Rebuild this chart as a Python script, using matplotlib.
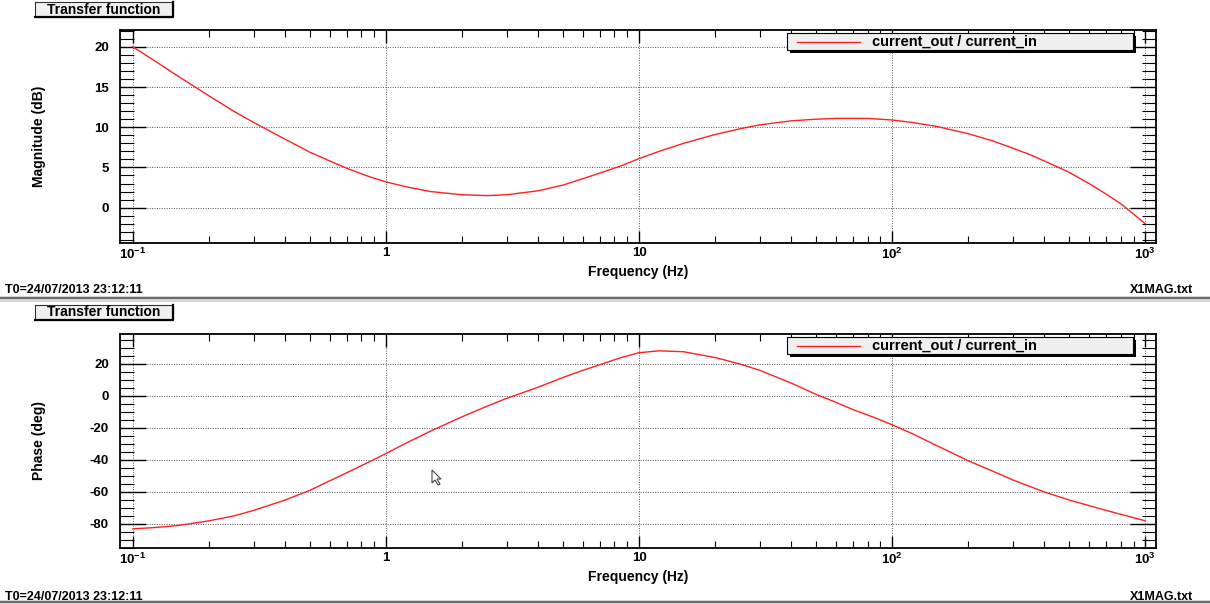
import numpy as np
import matplotlib
matplotlib.use("Agg")
import matplotlib.pyplot as plt
from matplotlib.patches import Rectangle, Polygon
from matplotlib.lines import Line2D
from matplotlib.ticker import FixedLocator, FuncFormatter, MultipleLocator, NullFormatter

plt.rcParams['font.family'] = ['Liberation Sans', 'DejaVu Sans']
plt.rcParams['font.weight'] = 'bold'
plt.rcParams['mathtext.fontset'] = 'custom'
plt.rcParams['mathtext.rm'] = 'Liberation Sans:bold'
plt.rcParams['mathtext.bf'] = 'Liberation Sans:bold'
plt.rcParams['axes.unicode_minus'] = False

# transfer function current_out / current_in
freq_mag = [0.1, 0.12, 0.15, 0.2, 0.25, 0.3, 0.4, 0.5, 0.6, 0.7, 0.85, 1, 1.2, 1.5, 2, 2.5,
            3, 4, 5, 6, 7, 8.5, 10, 12, 15, 20, 25, 30, 40, 50, 60, 80, 100, 120, 150,
            200, 250, 300, 350, 400, 500, 600, 700, 800, 900, 1000]
mag_db = [20.0, 18.4, 16.4, 13.9, 12.0, 10.6, 8.5, 6.9, 5.8, 4.9, 3.9, 3.2, 2.6, 2.0, 1.6, 1.5,
          1.6, 2.1, 2.8, 3.6, 4.3, 5.2, 6.1, 7.0, 8.0, 9.1, 9.8, 10.3, 10.8, 11.0, 11.1, 11.1,
          10.9, 10.6, 10.1, 9.2, 8.3, 7.4, 6.6, 5.8, 4.4, 3.0, 1.7, 0.5, -0.8, -2.0]

freq_ph = [0.1, 0.12, 0.15, 0.2, 0.25, 0.3, 0.4, 0.5, 0.6, 0.7, 0.85, 1, 1.2, 1.5, 2, 2.5,
           3, 4, 5, 6, 7, 8.5, 10, 12, 15, 20, 25, 30, 40, 50, 60, 70, 85, 100, 120, 150,
           200, 250, 300, 400, 500, 600, 700, 850, 1000]
phase_deg = [-83, -82.3, -81, -78, -75, -71.5, -65, -59, -53, -48, -41.5, -36, -29.5, -22,
             -13, -6.5, -1.5, 5.5, 11.5, 16, 19.5, 24, 27, 28.2, 27.6, 24, 20, 16, 8, 1, -4,
             -8.5, -13.5, -18, -23.5, -31, -40.5, -47, -52.5, -60, -65, -68.5, -71.5, -75, -78]

legend_text = "current_out / current_in"
stamp_text = "T0=24/07/2013 23:12:11"
file_text = "X1MAG.txt"

W, H = 1210, 604
fig = plt.figure(figsize=(W / 100, H / 100), dpi=100)


def fx(px):
    return px / W


def fy(py):
    return 1 - py / H


def xfmt(v, pos):
    e = int(round(np.log10(v)))
    if e == 0:
        return "1"
    if e == 1:
        return "10"
    return r"$10^{%d}$" % e


def panel(top, bottom, xs, ys, ylim, ymajor, yminor, ylabel, leg_y):
    ax = fig.add_axes([fx(120), fy(bottom), fx(1156) - fx(120), fy(top) - fy(bottom)])
    ax.plot(xs, ys, color='#ff2020', lw=1.0)
    ax.set_xscale('log')
    ax.set_xlim(10 ** -1.051, 10 ** 3.043)
    ax.set_ylim(*ylim)
    ax.xaxis.set_major_locator(FixedLocator([0.1, 1, 10, 100, 1000]))
    ax.xaxis.set_major_formatter(FuncFormatter(xfmt))
    minors = [m * 10.0 ** e for e in range(-1, 3) for m in range(2, 10)]
    ax.xaxis.set_minor_locator(FixedLocator(minors))
    ax.xaxis.set_minor_formatter(NullFormatter())
    ax.yaxis.set_major_locator(MultipleLocator(ymajor))
    ax.yaxis.set_minor_locator(MultipleLocator(yminor))
    ax.tick_params(axis='both', which='both', direction='in', top=True, right=True,
                   labelsize=9.5, color='black')
    ax.tick_params(axis='x', which='major', length=9, width=1, pad=3)
    ax.tick_params(axis='x', which='minor', length=5, width=0.8)
    ax.tick_params(axis='y', which='major', length=19, width=1, pad=8)
    ax.tick_params(axis='y', which='minor', length=10, width=0.8)
    ax.grid(True, which='major', linestyle=(0, (1, 1.5)), color='#555555', lw=0.7)
    for s in ax.spines.values():
        s.set_linewidth(1.3)
    ax.set_xlabel("Frequency (Hz)", fontsize=10, fontweight='bold', labelpad=2)
    ax.set_ylabel(ylabel, fontsize=10, fontweight='bold')
    ax_w = fx(1156) - fx(120)
    ax.yaxis.set_label_coords((fx(46) - fx(120)) / ax_w, 0.5)

    # legend box with drop shadow
    fig.patches.append(Rectangle((fx(790), fy(leg_y + 20)), fx(346), fy(0) - fy(17),
                                 transform=fig.transFigure, facecolor='black', edgecolor='none'))
    fig.patches.append(Rectangle((fx(787), fy(leg_y + 17)), fx(346), fy(0) - fy(17),
                                 transform=fig.transFigure, facecolor='#f0f0f0',
                                 edgecolor='black', lw=0.8))
    fig.lines.append(Line2D([fx(797), fx(860)], [fy(leg_y + 9)] * 2, transform=fig.transFigure,
                            color='#ff2020', lw=1.0))
    fig.text(fx(872), fy(leg_y + 9), legend_text, fontsize=10.5, fontweight='bold',
             va='center', ha='left')
    return ax


def title_box(y):
    fig.patches.append(Rectangle((fx(35), fy(y + 15)), fx(138), fy(0) - fy(15),
                                 transform=fig.transFigure, facecolor='#f0f0f0',
                                 edgecolor='#333333', lw=0.8))
    fig.lines.append(Line2D([fx(173), fx(173), fx(35)], [fy(y), fy(y + 15), fy(y + 15)],
                            transform=fig.transFigure, color='black', lw=1.6))
    fig.text(fx(104), fy(y + 7.5), "Transfer function", fontsize=10, fontweight='bold',
             ha='center', va='center')


def footer(y):
    fig.text(fx(5), fy(y), stamp_text, fontsize=9, fontweight='bold', ha='left', va='center')
    fig.text(fx(1193), fy(y), file_text, fontsize=9, fontweight='bold', ha='right', va='center')


def separator(y):
    fig.patches.append(Rectangle((0, fy(y + 6)), 1, fy(0) - fy(6), transform=fig.transFigure,
                                 facecolor='#d4d4d4', edgecolor='none'))
    fig.lines.append(Line2D([0, 1], [fy(y + 2)] * 2, transform=fig.transFigure,
                            color='#555555', lw=1.2))


title_box(2)
panel(30, 243, freq_mag, mag_db, (-4.4, 22.1), 5, 1, "Magnitude (dB)", 33)
footer(290)
separator(296)

title_box(305)
ax2 = panel(334, 548, freq_ph, phase_deg, (-95, 38.7), 20, 5, "Phase (deg)", 337)
footer(597)
separator(600)

# mouse pointer left on the phase plot
cursor = [(0, 0), (0, 13), (3, 10), (6, 15), (8, 14), (5, 9), (9, 9)]
fig.patches.append(Polygon([(fx(432 + cx), fy(470 + cy)) for cx, cy in cursor], closed=True,
                           transform=fig.transFigure, facecolor='white', edgecolor='#444444',
                           lw=0.8))

fig.savefig("out.png", dpi=100)
